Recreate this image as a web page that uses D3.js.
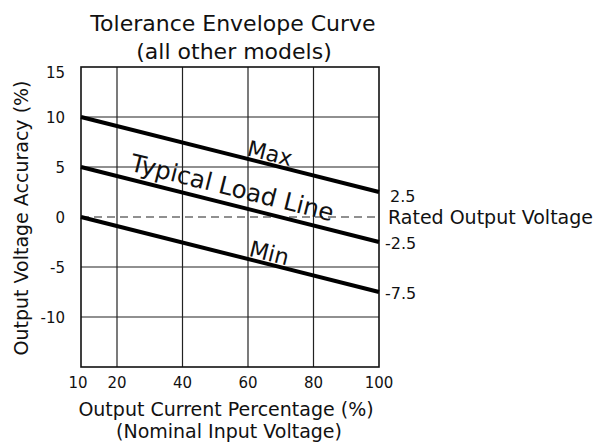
<!DOCTYPE html>
<html>
  <head>
      <script type="text/javascript" src="https://cdn.jsdelivr.net/npm/d3@7/dist/d3.min.js"></script>
      <style>
        body { margin: 0; background: #fff; }
        text { font-family: "DejaVu Sans", Verdana, sans-serif; fill: #111; }
      </style>
  </head>
  <body>
      <svg width="608" height="445"></svg>
      <script>
          // data
          var xTicks = [10, 20, 40, 60, 80, 100]
          var yTicks = [15, 10, 5, 0, -5, -10]
          var xGrid = [20, 40, 60, 80]
          var yGrid = [10, 5, -5, -10]
          var loadX = [10, 100]
          var maxY = [10, 2.5]
          var typY = [5, -2.5]
          var minY = [0, -7.5]
          var endLabels = ["2.5", "-2.5", "-7.5"]

          var svg = d3.select('svg')
          // the 10 column is drawn a little narrower than the others
          var x = d3.scaleLinear().domain([10, 20, 100]).range([81, 117, 379])
          var y = d3.scaleLinear().domain([-15, 15]).range([367, 67])

          // grid
          svg.selectAll('.vg').data(xGrid).enter().append('line')
              .attr('x1', function(d){ return x(d) }).attr('x2', function(d){ return x(d) })
              .attr('y1', y(15)).attr('y2', y(-15))
              .attr('stroke', '#222').attr('stroke-width', 1.2)
          svg.selectAll('.hg').data(yGrid).enter().append('line')
              .attr('x1', x(10)).attr('x2', x(100))
              .attr('y1', function(d){ return y(d) }).attr('y2', function(d){ return y(d) })
              .attr('stroke', '#222').attr('stroke-width', 1.2)

          // rated output (0) dashed
          svg.append('line')
              .attr('x1', x(10)).attr('x2', x(100))
              .attr('y1', y(0)).attr('y2', y(0))
              .attr('stroke', '#222').attr('stroke-width', 1.2)
              .attr('stroke-dasharray', '8,5')

          // frame
          svg.append('rect')
              .attr('x', x(10)).attr('y', y(15))
              .attr('width', x(100) - x(10)).attr('height', y(-15) - y(15))
              .attr('fill', 'none').attr('stroke', '#111').attr('stroke-width', 1.6)

          // load lines
          var line = d3.line()
              .x(function(d){ return x(d[0]) })
              .y(function(d){ return y(d[1]) })
          ;[maxY, typY, minY].forEach(function(s){
              svg.append('path')
                  .datum(d3.zip(loadX, s))
                  .attr('d', line)
                  .attr('fill', 'none').attr('stroke', '#000').attr('stroke-width', 4)
          })

          // rotated labels along the lines
          var ang = Math.atan2(y(maxY[1]) - y(maxY[0]), x(loadX[1]) - x(loadX[0])) * 180 / Math.PI
          function onLine(s, px){
              var xv = x.invert(px)
              return s[0] + (s[1] - s[0]) * (xv - loadX[0]) / (loadX[1] - loadX[0])
          }
          var lbls = [
              {t: 'Max', s: maxY, px: 246, off: -3, size: 22},
              {t: 'Typical Load Line', s: typY, px: 129, off: -8, size: 24.5},
              {t: 'Min', s: minY, px: 248, off: -3, size: 22.5}
          ]
          lbls.forEach(function(l){
              var py = y(onLine(l.s, l.px)) + l.off
              svg.append('text')
                  .attr('transform', 'translate(' + l.px + ',' + py + ') rotate(' + ang + ')')
                  .attr('font-size', l.size)
                  .text(l.t)
          })

          // end values
          var ends = [maxY[1], typY[1], minY[1]]
          svg.selectAll('.endl').data(endLabels).enter().append('text')
              .attr('x', function(d, i){ return i == 0 ? 390 : 385 })
              .attr('y', function(d, i){ return (i == 0 ? y(ends[i]) + 10 : y(ends[i]) + 7) })
              .attr('font-size', 16)
              .text(function(d){ return d })
          svg.append('text')
              .attr('x', 388).attr('y', y(0) + 7)
              .attr('font-size', 19)
              .text('Rated Output Voltage')

          // tick labels
          svg.selectAll('.xt').data(xTicks).enter().append('text')
              .attr('x', function(d){ return d == 10 ? x(d) - 3 : x(d) })
              .attr('y', 388)
              .attr('text-anchor', 'middle').attr('font-size', 15)
              .text(function(d){ return d })
          svg.selectAll('.yt').data(yTicks).enter().append('text')
              .attr('x', 65)
              .attr('y', function(d){ return d == 15 ? y(d) + 11 : y(d) + 6 })
              .attr('text-anchor', 'end').attr('font-size', 15)
              .text(function(d){ return d })

          // titles
          svg.append('text').attr('x', 233).attr('y', 31)
              .attr('text-anchor', 'middle').attr('font-size', 22)
              .text('Tolerance Envelope Curve')
          svg.append('text').attr('x', 234).attr('y', 59)
              .attr('text-anchor', 'middle').attr('font-size', 22)
              .text('(all other models)')
          svg.append('text').attr('x', 226).attr('y', 416)
              .attr('text-anchor', 'middle').attr('font-size', 19)
              .text('Output Current Percentage (%)')
          svg.append('text').attr('x', 229).attr('y', 438)
              .attr('text-anchor', 'middle').attr('font-size', 19)
              .text('(Nominal Input Voltage)')
          svg.append('text')
              .attr('transform', 'translate(28,' + 218 + ') rotate(-90)')
              .attr('text-anchor', 'middle').attr('font-size', 19)
              .text('Output Voltage Accuracy (%)')
      </script>
  </body>
</html>
